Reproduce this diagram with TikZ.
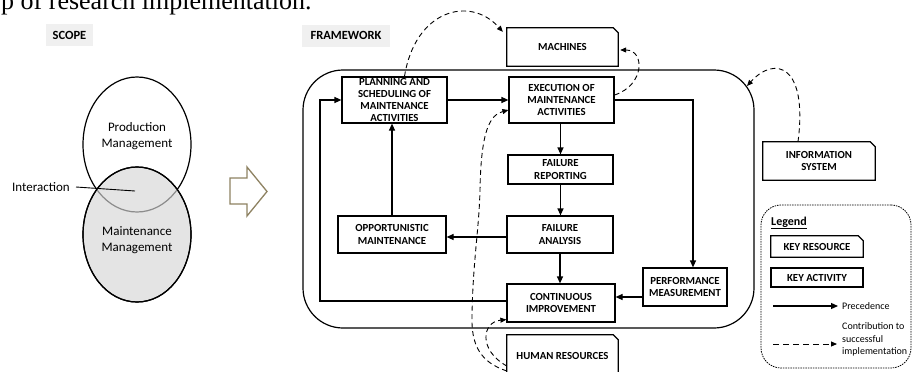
\documentclass[tikz,border=0pt]{standalone}
\usepackage{fontspec}
\setmainfont{Carlito}
\newfontfamily\capfont{Liberation Serif}
\usetikzlibrary{arrows.meta,calc}
\definecolor{ellgray}{HTML}{E4E4E4}
\definecolor{labgray}{HTML}{F0F0F0}
\definecolor{arcgray}{HTML}{8C8C8C}
\definecolor{arrowol}{HTML}{8E8262}
\newcommand\reskey[1]{\draw[line width=1.2pt] (#1.south west) -- (#1.north west) -- ([xshift=-5pt]#1.north east) -- ([yshift=-5pt]#1.north east) -- (#1.south east) -- cycle;}
\begin{document}
\begin{tikzpicture}[x=1pt,y=-1pt,
  act/.style={draw, line width=1.2pt, fill=white, inner sep=0pt, align=center, font=\bfseries\fontsize{10.8}{12.3}\selectfont},
  res/.style={inner sep=0pt, align=center, font=\bfseries\fontsize{10.8}{12.3}\selectfont},
  arr/.style={line width=1.2pt, -{Triangle[length=7pt,width=6pt]}},
  dsh/.style={line width=0.9pt, dash pattern=on 5pt off 3.5pt, -{Triangle[length=6pt,width=5pt]}},
  lab/.style={fill=labgray, inner sep=0pt, minimum height=22pt, font=\bfseries\fontsize{12.5}{14}\selectfont},
  ell/.style={font=\fontsize{13}{16}\selectfont, align=center, inner sep=0pt},
  leg/.style={inner sep=0pt, align=left, font=\fontsize{10}{12.5}\selectfont},
]
\useasboundingbox (0,0) rectangle (913,372);
% caption fragment
\node[anchor=base west, inner sep=0pt, font=\capfont\fontsize{26}{30}\selectfont] (cap) at (1,9.5) {p of research implementation.};
% labels
\node[lab, minimum width=47pt] (scope) at (69.5,35) {SCOPE};
\node[lab, minimum width=88pt] (fw) at (346,35.5) {FRAMEWORK};
% Venn
\draw[line width=1.2pt, fill=white] (137,144.5) ellipse [x radius=54, y radius=67.5];
\draw[line width=1.2pt, fill=ellgray] (137,234.5) ellipse [x radius=54, y radius=67.5];
\begin{scope}
  \clip (137,234.5) ellipse [x radius=54, y radius=67.5];
  \draw[arcgray, line width=1.2pt] (137,144.5) ellipse [x radius=54, y radius=67.5];
\end{scope}
\draw[line width=1.2pt] (137,234.5) ellipse [x radius=54, y radius=67.5];
\node[ell] (prodt) at (137,136) {Production\\Management};
\node[ell] (maintt) at (137,240) {Maintenance\\Management};
\node[ell, anchor=east] (inter) at (70,187) {Interaction};
\coordinate (ipt) at (135,191);
\draw[line width=0.9pt] ([xshift=6pt]inter.east) -- (ipt);
% hollow arrow
\draw[arrowol, line width=1.3pt, fill=white, line join=miter] (230,178) -- (247,178) -- (247,167) -- (267,191.5) -- (247,216) -- (247,204) -- (230,204) -- cycle;
% frame
\node[draw, line width=1.2pt, rounded corners=40pt, minimum width=451pt, minimum height=258pt, inner sep=0pt] (frame) at (528.5,199) {};
% activities
\node[act, minimum width=105pt, minimum height=46pt] (plan) at (394.5,100) {PLANNING AND\\SCHEDULING OF\\MAINTENANCE\\ACTIVITIES};
\node[act, minimum width=105pt, minimum height=46pt] (exec) at (561.5,100) {EXECUTION OF\\MAINTENANCE\\ACTIVITIES};
\node[act, minimum width=105pt, minimum height=29pt] (frep) at (560.5,169.5) {FAILURE\\REPORTING};
\node[act, minimum width=106pt, minimum height=37pt] (fana) at (560,234.5) {FAILURE\\ANALYSIS};
\node[act, minimum width=108pt, minimum height=37pt] (opp) at (392,234.5) {OPPORTUNISTIC\\MAINTENANCE};
\node[act, minimum width=108pt, minimum height=38pt] (cont) at (561,303) {CONTINUOUS\\IMPROVEMENT};
\node[act, minimum width=84pt, minimum height=38pt] (perf) at (685,287) {PERFORMANCE\\MEASUREMENT};
% resources
\node[res, minimum width=111pt, minimum height=38pt] (mach) at (562.5,47) {MACHINES};
\reskey{mach}
\node[res, minimum width=112pt, minimum height=38pt] (info) at (819,161) {INFORMATION\\SYSTEM};
\reskey{info}
\node[res, minimum width=111pt, minimum height=42pt] (hr) at (562.5,356) {HUMAN RESOURCES};
\reskey{hr}
% precedence arrows
\draw[arr] (plan.east) -- (exec.west);
\draw[arr] (exec.south -| frep.north) -- (frep.north);
\draw[arr] (frep.south) -- (frep.south |- fana.north);
\draw[arr] ([yshift=-2.5pt]fana.west) -- ([yshift=-2.5pt]fana.west -| opp.east);
\draw[arr] (opp.north) -- (opp.north |- plan.south);
\draw[arr] (fana.south) -- (fana.south |- cont.north);
\coordinate (lft) at (320,0);
\draw[arr] ([yshift=2pt]cont.west) -- ([yshift=2pt]cont.west -| lft) |- (plan.west);
\draw[arr] (exec.east) -| ([xshift=8pt]perf.north);
\draw[arr] ([yshift=-10pt]perf.west) -- ([yshift=-10pt]perf.west -| cont.east);
% contribution arrows
\draw[dsh] ([xshift=10pt]plan.north) .. controls (415,10) and (470,-5) .. ([xshift=-4pt,yshift=-4pt]mach.north west);
\draw[dsh] ([yshift=5pt]exec.east) .. controls (645,85) and (645,50) .. ([xshift=2pt,yshift=-3pt]mach.east);
\coordinate (fc) at (747,86);
\draw[dsh] ([xshift=-21pt]info.north) .. controls (808,65) and (775,55) .. (fc);
\draw[dsh] ([yshift=-15pt]hr.west) .. controls (480,362) and (471,345) .. (472,315) .. controls (473,260) and (479,230) .. (480,190) .. controls (481,130) and (490,115) .. ([yshift=-10pt]exec.west);
\draw[dsh] ([yshift=-10pt]hr.west) .. controls (478,350) and (482,322) .. ([yshift=3pt]cont.south west);
% legend
\node[draw, line width=0.8pt, dash pattern=on 1.5pt off 1pt, rounded corners=20pt, minimum width=150pt, minimum height=163pt, inner sep=0pt] (legend) at (836,286.5) {};
\node[anchor=base west, inner sep=0pt, font=\bfseries\fontsize{12}{14}\selectfont] (legt) at (771,225) {\underline{Legend}};
\node[res, minimum width=92pt, minimum height=21pt] (kres) at (817,246.5) {KEY RESOURCE};
\reskey{kres}
\node[act, minimum width=92pt, minimum height=19pt] (kact) at (817,277.5) {KEY ACTIVITY};
\node[leg, anchor=west] (prec) at (842,306) {Precedence};
\coordinate (la1) at (773,306);
\draw[arr] (la1) -- ([xshift=-4pt]prec.west);
\node[leg, anchor=west] (contr) at (842,339.5) {Contribution to\\successful\\implementation};
\coordinate (la2) at (773,344);
\draw[dsh, dash pattern=on 6pt off 4pt] (la2) -- ([xshift=-5pt]contr.west |- la2);
\end{tikzpicture}
\end{document}
